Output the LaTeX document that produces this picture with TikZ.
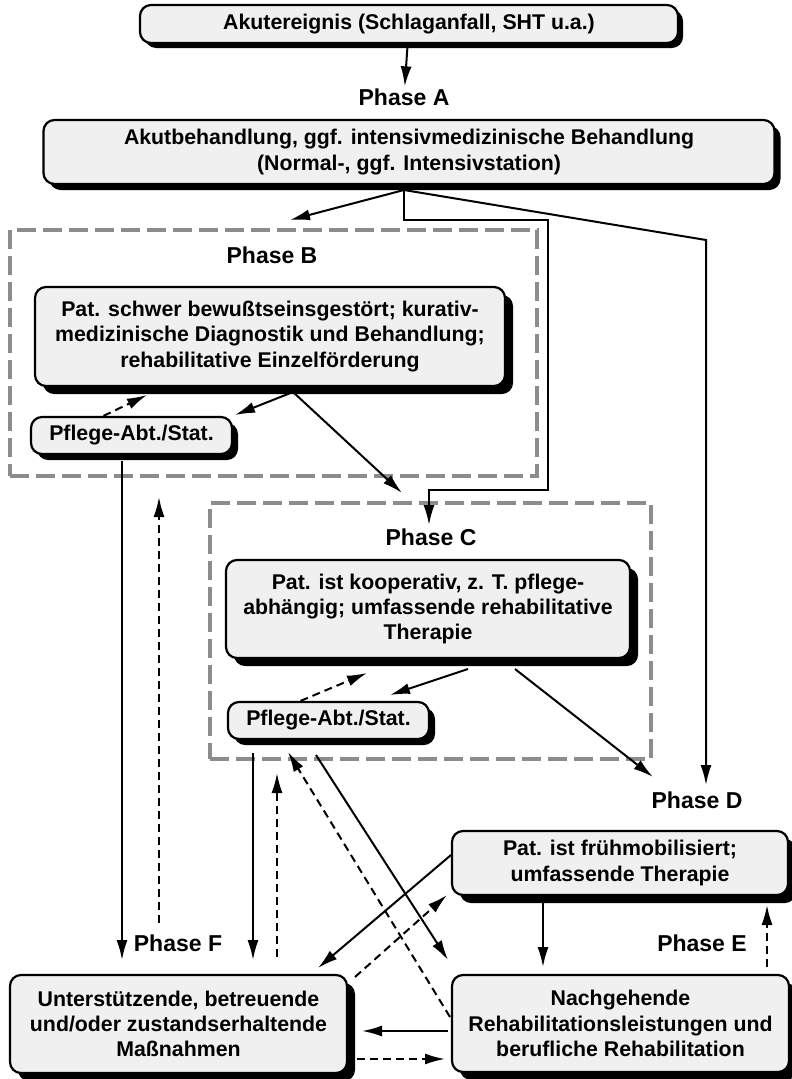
\documentclass[tikz,border=0pt]{standalone}
\usepackage{fontspec}
\setmainfont{Liberation Sans}
\usetikzlibrary{shapes,arrows.meta,positioning,calc,shadows}
\newcommand{\boxfont}{\bfseries\fontsize{21.3}{25.2}\selectfont}
\newcommand{\phasefont}{\bfseries\fontsize{23}{27}\selectfont}
\tikzset{
    block/.style={rectangle, draw, fill=gray!12, align=center, rounded corners=11pt, inner sep=0pt, line width=2.2pt, font=\boxfont, general shadow={fill=black, shadow xshift=#1, shadow yshift=-#1}},
    block/.default=8pt,
    phasetext/.style={font=\phasefont, inner sep=2pt},
    phaseframe/.style={rectangle, draw=black!45, line width=4pt, dash pattern=on 19pt off 7pt, inner sep=0pt},
    line/.style={draw, -{Latex[length=20pt, width=11pt]}, line width=2pt},
    dashline/.style={line, dash pattern=on 8pt off 5pt}
}
\begin{document}
\begin{tikzpicture}[x=1pt, y=-1pt]
    \useasboundingbox (0,0) rectangle (792,1079);

    % phase frames
    \node [phaseframe, minimum width=527pt, minimum height=246pt] (frameB) at (273.5,353) {};
    \node [phaseframe, minimum width=441pt, minimum height=256pt] (frameC) at (430.5,631) {};

    \node [block=5pt, minimum width=538pt, minimum height=38pt] (acute) at (409,24) {Akutereignis (Schlaganfall, SHT u.a.)};
    \node [phasetext] (phaseA) at (404,97) {Phase A};
    \node [block=6pt, minimum width=731pt, minimum height=64pt] (acutecare) at (409,152) {Akutbehandlung, ggf. intensivmedizinische Behandlung\\(Normal-, ggf. Intensivstation)};

    \node [phasetext] (phaseB) at (272,255) {Phase B};
    \node [block, minimum width=470pt, minimum height=99pt] (patB) at (270,336.5) {Pat. schwer bewußtseinsgestört; kurativ-\\medizinische Diagnostik und Behandlung;\\rehabilitative Einzelförderung};
    \node [block=6pt, minimum width=201pt, minimum height=37pt] (careB) at (131.5,435.5) {Pflege-Abt./Stat.};

    \node [phasetext] (phaseC) at (431,537) {Phase C};
    \node [block, minimum width=404pt, minimum height=98pt] (patC) at (428,609) {Pat. ist kooperativ, z. T. pflege-\\abhängig; umfassende rehabilitative\\Therapie};
    \node [block=6pt, minimum width=201pt, minimum height=37pt] (careC) at (328.5,720.5) {Pflege-Abt./Stat.};

    \node [phasetext] (phaseD) at (697,800) {Phase D};
    \node [block, minimum width=336pt, minimum height=64pt] (patD) at (620,863) {Pat. ist frühmobilisiert;\\umfassende Therapie};
    \node [phasetext] (phaseE) at (702,943) {Phase E};
    \node [phasetext] (phaseF) at (178,943) {Phase F};
    \node [block, minimum width=337pt, minimum height=98pt] (support) at (178.5,1024) {Unterstützende, betreuende\\und/oder zustandserhaltende\\Maßnahmen};
    \node [block, minimum width=337pt, minimum height=97pt] (aftercare) at (620.5,1023.5) {Nachgehende\\Rehabilitationsleistungen und\\berufliche Rehabilitation};

    % free ends
    \coordinate (split) at (404,190);
    \coordinate (toB) at (290,220);
    \coordinate (toC) at (429,525);
    \coordinate (toD) at (706,785);
    \coordinate (outB) at (293,392);
    \coordinate (intoB) at (235,415);
    \coordinate (backB) at (147,395);
    \coordinate (diagB) at (402,493);
    \coordinate (outC) at (468,669);
    \coordinate (intoC) at (390,695);
    \coordinate (backC) at (367,673);
    \coordinate (outC2) at (515,669);
    \coordinate (diagC) at (653,777);
    \coordinate (downB) at (122,960);
    \coordinate (upB) at (159,497);
    \coordinate (upBs) at (159,923);
    \coordinate (outCd) at (253,753);
    \coordinate (downC) at (253,960);
    \coordinate (upC) at (277,773);
    \coordinate (upCs) at (277,957);
    \coordinate (retC) at (288,752);
    \coordinate (retCs) at (450,1017);
    \coordinate (outCr) at (316,755);
    \coordinate (toAfter) at (448,960);
    \coordinate (outD) at (451,855);
    \coordinate (toSupp) at (318,968);
    \coordinate (suppUp) at (355,977);
    \coordinate (toD2) at (447,895);
    \coordinate (outDd) at (543,903);
    \coordinate (toAfter2) at (543,967);
    \coordinate (afterUp) at (767,967);
    \coordinate (toD3) at (767,905);
    \coordinate (afterL) at (448,1031);
    \coordinate (suppR) at (362,1031);
    \coordinate (suppR2) at (357,1059);
    \coordinate (afterL2) at (445,1059);

    \path [line] (acute) -- (phaseA);
    \path [line] (split) -- (toB);
    \path [line] (split) |- (548,220) |- (429,490) -- (toC);
    \path [line] (split) -- (706,240) -- (toD);

    \path [line] (outB) -- (intoB);
    \path [dashline] ([xshift=-28pt]careB.north) -- (backB);
    \path [line] (outB) -- (diagB);

    \path [line] (outC) -- (intoC);
    \path [dashline] ([xshift=-28pt]careC.north) -- (backC);
    \path [line] (outC2) -- (diagC);

    \path [line] ([xshift=-9.5pt, yshift=-6pt]careB.south) -- (downB);
    \path [dashline] (upBs) -- (upB);
    \path [line] (outCd) -- (downC);
    \path [dashline] (upCs) -- (upC);
    \path [dashline] (retCs) -- (retC);
    \path [line] (outCr) -- (toAfter);
    \path [line] (outD) -- (toSupp);
    \path [dashline] (suppUp) -- (toD2);
    \path [line] (outDd) -- (toAfter2);
    \path [dashline] (afterUp) -- (toD3);
    \path [line] (afterL) -- (suppR);
    \path [dashline] (suppR2) -- (afterL2);
\end{tikzpicture}
\end{document}
